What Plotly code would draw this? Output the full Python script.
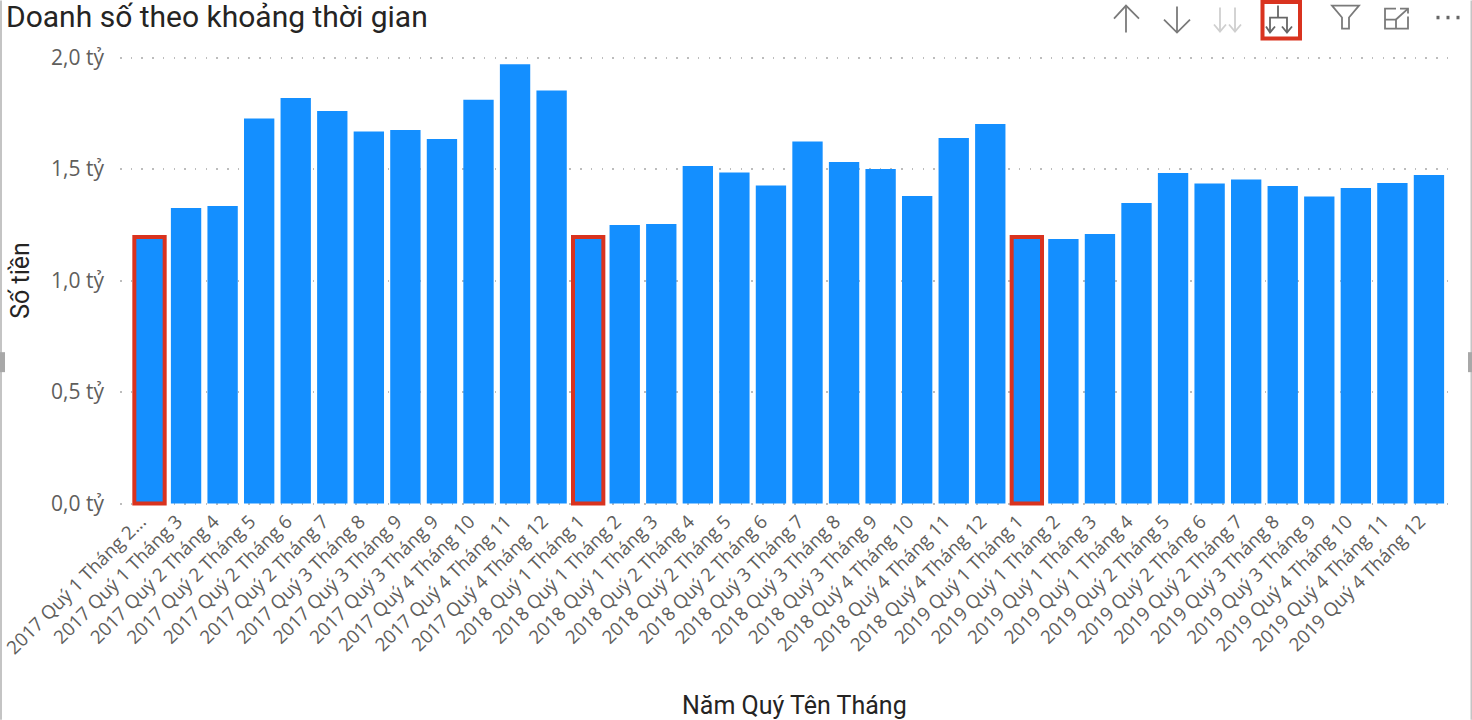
import plotly.graph_objects as go

TITLE = "Doanh số theo khoảng thời gian"
X_TITLE = "Năm Quý Tên Tháng"
Y_TITLE = "Số tiền"

labels = [
    "2017 Quý 1 Tháng 2...", "2017 Quý 1 Tháng 3", "2017 Quý 2 Tháng 4", "2017 Quý 2 Tháng 5",
    "2017 Quý 2 Tháng 6", "2017 Quý 2 Tháng 7", "2017 Quý 3 Tháng 8", "2017 Quý 3 Tháng 9",
    "2017 Quý 3 Tháng 9", "2017 Quý 4 Tháng 10", "2017 Quý 4 Tháng 11", "2017 Quý 4 Tháng 12",
    "2018 Quý 1 Tháng 1", "2018 Quý 1 Tháng 2", "2018 Quý 1 Tháng 3", "2018 Quý 2 Tháng 4",
    "2018 Quý 2 Tháng 5", "2018 Quý 2 Tháng 6", "2018 Quý 3 Tháng 7", "2018 Quý 3 Tháng 8",
    "2018 Quý 3 Tháng 9", "2018 Quý 4 Tháng 10", "2018 Quý 4 Tháng 11", "2018 Quý 4 Tháng 12",
    "2019 Quý 1 Tháng 1", "2019 Quý 1 Tháng 2", "2019 Quý 1 Tháng 3", "2019 Quý 1 Tháng 4",
    "2019 Quý 2 Tháng 5", "2019 Quý 2 Tháng 6", "2019 Quý 2 Tháng 7", "2019 Quý 3 Tháng 8",
    "2019 Quý 3 Tháng 9", "2019 Quý 4 Tháng 10", "2019 Quý 4 Tháng 11", "2019 Quý 4 Tháng 12",
]
values = [
    1.195, 1.325, 1.334, 1.726, 1.818, 1.760, 1.668, 1.675, 1.634, 1.810, 1.970, 1.852,
    1.195, 1.249, 1.253, 1.513, 1.484, 1.426, 1.623, 1.531, 1.500, 1.379, 1.639, 1.702,
    1.195, 1.186, 1.208, 1.348, 1.482, 1.435, 1.453, 1.424, 1.377, 1.415, 1.437, 1.473,
]
highlighted = [0, 12, 24]
y_ticks = [0, 0.5, 1.0, 1.5, 2.0]
y_tick_labels = ["0,0 tỷ", "0,5 tỷ", "1,0 tỷ", "1,5 tỷ", "2,0 tỷ"]

W, H = 1472, 720
L, R, T, B = 120, 1456, 54.5, 506
BLUE = "#148FFF"
RED = "#D9331F"
positions = list(range(len(values)))

def px(x):
    return (x - L) / (R - L)

def py(y):
    return (B - y) / (B - T)

def path(points, close=False):
    s = "M " + " L ".join(f"{px(x):.5f},{py(y):.5f}" for x, y in points)
    return s + (" Z" if close else "")

def icon(points, color, width=1.8, close=False):
    return dict(type="path", xref="paper", yref="paper", path=path(points, close),
                line=dict(color=color, width=width), layer="above")

DARK = "#7A7A7A"
FAINT = "#CFCFCF"
shapes = [
    # visual header icons
    icon([(1126, 32), (1126, 6)], DARK), icon([(1114, 18), (1126, 5), (1139, 18)], DARK),
    icon([(1177, 6), (1177, 32)], DARK), icon([(1164, 19), (1177, 32), (1190, 19)], DARK),
    icon([(1220, 7), (1220, 31)], FAINT), icon([(1214, 24), (1220, 31), (1226, 24)], FAINT),
    icon([(1235, 7), (1235, 31)], FAINT), icon([(1229, 24), (1235, 31), (1241, 24)], FAINT),
    dict(type="rect", xref="paper", yref="paper", x0=px(1262.5), x1=px(1300), y0=py(38), y1=py(1.5),
         line=dict(color=RED, width=4), layer="above"),
    icon([(1278, 5), (1278, 17)], "#666666"),
    icon([(1270, 32), (1270, 17), (1287, 17), (1287, 32)], "#666666"),
    icon([(1266, 26), (1270, 32), (1275, 26)], "#666666"),
    icon([(1282, 26), (1287, 32), (1292, 26)], "#666666"),
    icon([(1332, 5), (1359, 5), (1349, 17), (1349, 28), (1342, 28), (1342, 17)], DARK, close=True),
    icon([(1396, 8), (1385, 8), (1385, 28), (1408, 28), (1408, 16)], DARK),
    icon([(1385, 19), (1396, 19), (1396, 28)], DARK),
    icon([(1396, 19), (1408, 8)], DARK), icon([(1400, 8), (1408, 8), (1408, 13)], DARK),
    icon([(1436.5, 17), (1439.5, 17)], "#666666", 3.5), icon([(1446.5, 17), (1449.5, 17)], "#666666", 3.5),
    icon([(1456.5, 17), (1459.5, 17)], "#666666", 3.5),
    # report canvas frame and resize handles
    dict(type="rect", xref="paper", yref="paper", x0=px(0), x1=px(2), y0=py(720), y1=py(0),
         fillcolor="#C4C4C4", line_width=0, layer="above"),
    dict(type="rect", xref="paper", yref="paper", x0=px(1470.5), x1=px(1472), y0=py(720), y1=py(0),
         fillcolor="#C4C4C4", line_width=0, layer="above"),
    dict(type="rect", xref="paper", yref="paper", x0=px(0), x1=px(5), y0=py(372), y1=py(352),
         fillcolor="#A8A8A8", line_width=0, layer="above"),
    dict(type="rect", xref="paper", yref="paper", x0=px(1468), x1=px(1472), y0=py(372), y1=py(352),
         fillcolor="#A8A8A8", line_width=0, layer="above"),
]

fig = go.Figure(go.Bar(
    x=positions,
    y=values,
    width=0.83,
    marker=dict(
        color=BLUE,
        line=dict(
            color=[RED if i in highlighted else BLUE for i in positions],
            width=[4 if i in highlighted else 0 for i in positions],
        ),
    ),
    hovertext=labels,
))

fig.update_layout(
    width=W, height=H,
    margin=dict(l=L, r=W - R, t=T, b=H - B, pad=0, autoexpand=False),
    paper_bgcolor="white", plot_bgcolor="white",
    font=dict(family="Open Sans", color="#605E5C"),
    showlegend=False,
    shapes=shapes,
    annotations=[
        dict(text=TITLE, xref="paper", yref="paper", x=px(5), y=py(15.5), xanchor="left", yanchor="middle",
             borderpad=0, showarrow=False, font=dict(family="Roboto", size=30, color="#252423")),
        dict(text=X_TITLE, xref="paper", yref="paper", x=px(794.5), y=py(706), xanchor="center", yanchor="middle",
             showarrow=False, font=dict(family="Roboto", size=25, color="#252423")),
    ],
)
fig.update_xaxes(
    range=[-0.807, 35.74], tickmode="array", tickvals=positions, ticktext=labels, tickangle=-45,
    tickfont=dict(family="Open Sans", size=18.7, color="#605E5C"), ticks="", ticklabelshift=-9,
    ticklabeloverflow="allow",
    showgrid=False, showline=False, zeroline=False, automargin=False,
)
fig.update_yaxes(
    range=[-0.0112, 2.0112], tickmode="array", tickvals=y_ticks, ticktext=y_tick_labels,
    tickfont=dict(family="Open Sans", size=21, color="#605E5C"), ticks="", ticklabelstandoff=15,
    showgrid=True, gridcolor="#BDBDBD", griddash="1.5px,9.2px", gridwidth=1.5, zeroline=False, showline=False,
    automargin=False,
    title=dict(text=Y_TITLE, standoff=14, font=dict(family="Roboto", size=25, color="#252423")),
)

fig.write_html("out.html", post_script="document.body.style.margin='0';",
               config=dict(displayModeBar=False))
